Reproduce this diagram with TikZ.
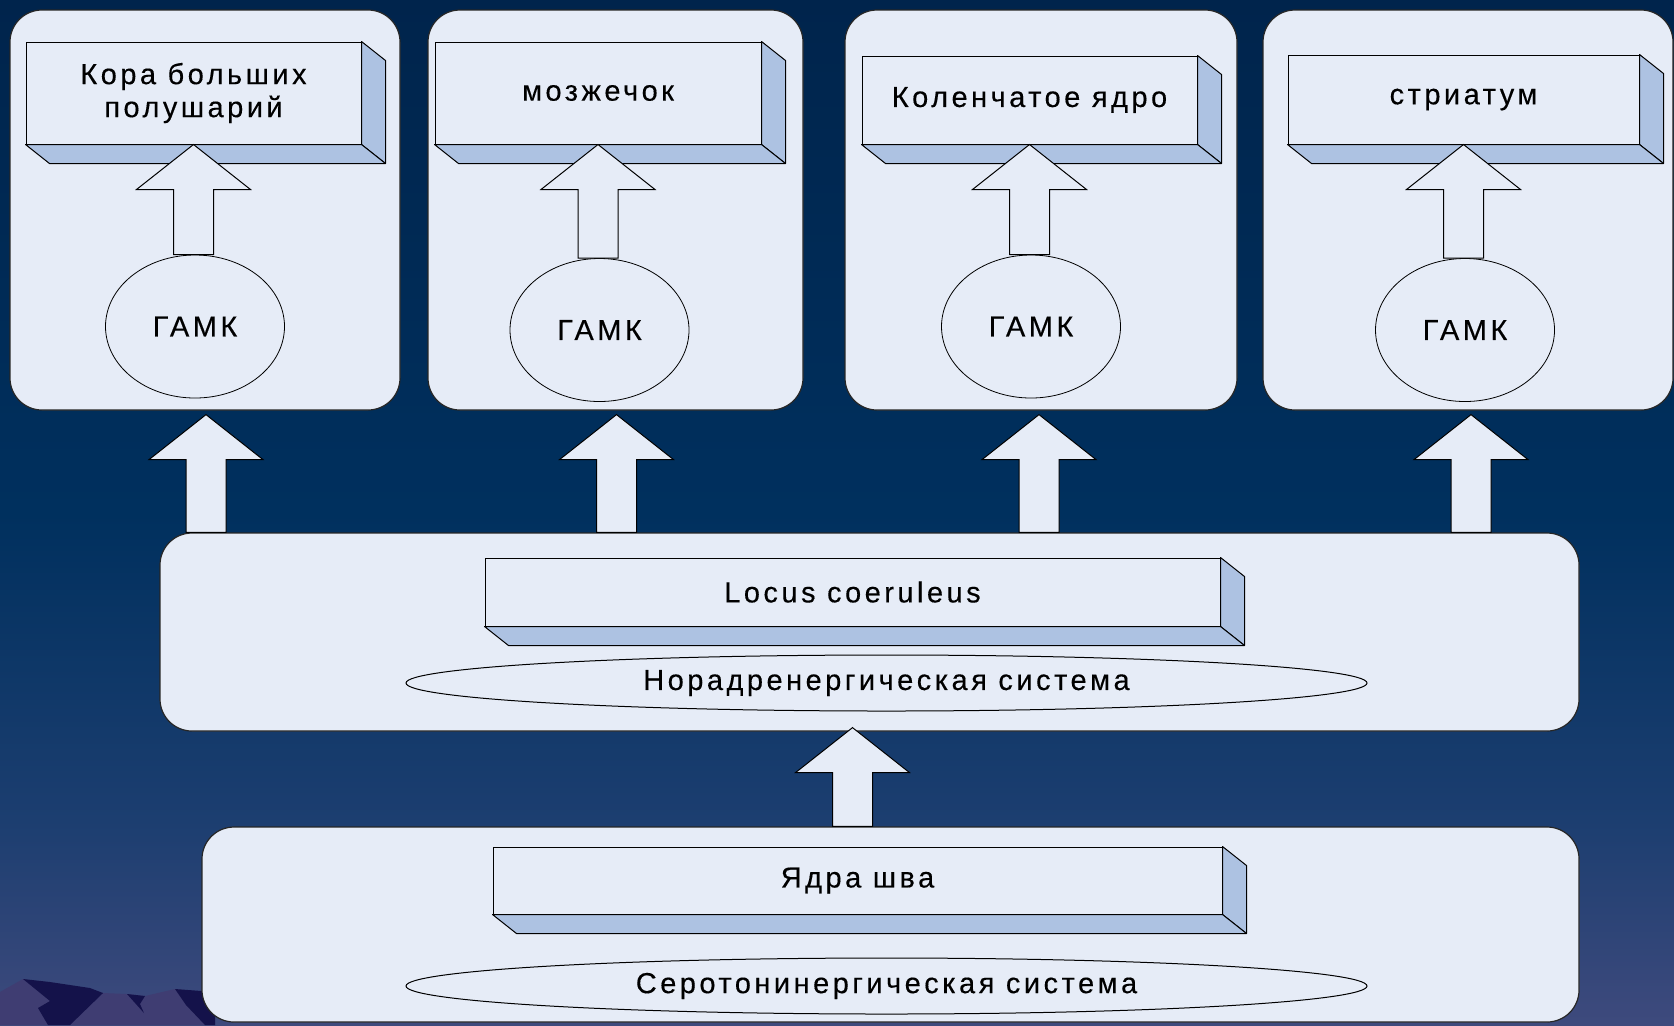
\documentclass[tikz,border=0pt]{standalone}
\usepackage{fontspec}
\setmainfont{Liberation Sans}[LetterSpace=12,FakeBold=0.3]
\usetikzlibrary{calc,shapes.geometric}

\definecolor{panelfill}{RGB}{230,236,247}
\definecolor{sidefill}{RGB}{173,194,226}
\definecolor{bgtop}{RGB}{0,36,76}
\definecolor{bgmid}{RGB}{0,48,94}
\definecolor{bglow}{RGB}{28,62,112}
\definecolor{bgbot}{RGB}{62,74,125}
\definecolor{hilllight}{RGB}{63,61,114}
\definecolor{hilldark}{RGB}{20,18,74}

\pgfdeclareverticalshading{nightsky}{100bp}{color(0bp)=(bgbot); color(25bp)=(bgbot); color(35bp)=(bglow); color(50bp)=(bgmid); color(75bp)=(bgtop); color(100bp)=(bgtop)}

\newcommand{\txt}{\fontsize{14.5}{16.5}\selectfont}

% block arrow pointing up: #1 base point, #2 tip
\newcommand{\blockup}[2]{%
  \draw[blk] let \p1=(#1), \p2=(#2) in
    (\x2,\y2) -- (\x2+\headw,\y2-\headl) -- (\x2+\shaftw,\y2-\headl) -- (\x2+\shaftw,\y1)
    -- (\x2-\shaftw,\y1) -- (\x2-\shaftw,\y2-\headl) -- (\x2-\headw,\y2-\headl) -- cycle;}

% side faces of a 3d box
\newcommand{\extrude}[1]{%
  \draw[side] (#1.north east) -- ($(#1.north east)+(24,19)$) -- ($(#1.south east)+(24,19)$) -- (#1.south east) -- cycle;
  \draw[side] (#1.south west) -- ($(#1.south west)+(24,19)$) -- ($(#1.south east)+(24,19)$) -- (#1.south east) -- cycle;}

\begin{document}
\begin{tikzpicture}[x=0.5pt,y=-0.5pt]
    \tikzstyle{panel}=[draw=black!85, fill=panelfill, rounded corners=16pt, line width=0.6pt, inner sep=0pt]
    \tikzstyle{front}=[draw=black, fill=panelfill, line width=0.5pt, inner sep=0pt, align=center, font=\txt]
    \tikzstyle{side}=[draw=black, fill=sidefill, line width=0.5pt, line join=round]
    \tikzstyle{gamk}=[ellipse, draw=black, fill=panelfill, line width=0.4pt, minimum width=89.5pt, minimum height=71.5pt, inner sep=0pt, font=\txt]
    \tikzstyle{flat}=[ellipse, draw=black, fill=panelfill, line width=0.5pt, minimum width=480.5pt, minimum height=28pt, inner sep=0pt, font=\txt]
    \tikzstyle{blk}=[draw=black, fill=panelfill, line width=0.5pt, line join=miter]

    \def\headw{28.5pt}
    \def\shaftw{10pt}
    \def\headl{22.5pt}

    % background
    \shade[shading=nightsky] (0,0) rectangle (1674,1025);
    \useasboundingbox (0,0) rectangle (1674,1025);

    \fill[hilllight] (0,992) -- (23,979) -- (103,993) -- (127,994) -- (145,996) -- (175,989) -- (215,993) -- (215,1025) -- (0,1025) -- cycle;
    \fill[hilldark] (23,979) -- (50,982) -- (90,988) -- (103,993) -- (70,1025) -- (48,1025) -- (38,1008) -- (50,1001) -- cycle;
    \fill[hilldark] (127,994) -- (145,996) -- (140,1004) -- (144,1013) -- cycle;
    \fill[hilldark] (175,989) -- (215,992) -- (215,1025) -- (205,1025) -- (186,1005) -- cycle;

    % top panels
    \node[panel, minimum width=195pt, minimum height=200pt]   (p1) at (205,210) {};
    \node[panel, minimum width=187.5pt, minimum height=200pt] (p2) at (615.5,210) {};
    \node[panel, minimum width=196pt, minimum height=200pt]   (p3) at (1041,210) {};
    \node[panel, minimum width=205pt, minimum height=200pt]   (p4) at (1468,210) {};

    % noradrenergic and serotonergic panels
    \node[panel, minimum width=709.5pt, minimum height=99pt]  (mid) at (869.5,632) {};
    \node[panel, minimum width=688.5pt, minimum height=97.5pt] (bot) at (890.5,924.5) {};

    \node[front, minimum width=167.5pt, minimum height=51pt]   (b1) at (193.5,93) {Кора больших\\полушарий};
    \node[front, minimum width=163pt, minimum height=51pt]     (b2) at (598,93) {мозжечок};
    \node[front, minimum width=167.5pt, minimum height=44pt]   (b3) at (1029.5,100) {Коленчатое ядро};
    \node[front, minimum width=175.5pt, minimum height=44.5pt] (b4) at (1463.5,99.5) {стриатум};
    \node[front, minimum width=367.5pt, minimum height=34pt]   (lc) at (852.5,592) {Locus coeruleus};
    \node[front, minimum width=364.5pt, minimum height=33.5pt] (rn) at (857.5,880.5) {Ядра шва};

    \extrude{b1}
    \extrude{b2}
    \extrude{b3}
    \extrude{b4}
    \extrude{lc}
    \extrude{rn}

    \node[gamk] (g1) at (195,326.5) {ГАМК};
    \node[gamk] (g2) at (599.5,330) {ГАМК};
    \node[gamk] (g3) at (1031,326.5) {ГАМК};
    \node[gamk] (g4) at (1465,330) {ГАМК};

    \node[flat] (ne) at (886.5,683) {Норадренергическая система};
    \node[flat] (se) at (886.5,986) {Серотонинергическая система};

    \blockup{g1.north}{b1.south}
    \blockup{g2.north}{b2.south}
    \blockup{g3.north}{b3.south}
    \blockup{g4.north}{b4.south}

    \blockup{mid.north}{$(p1.south)+(1,4)$}
    \blockup{mid.north}{$(p2.south)+(1,4)$}
    \blockup{mid.north}{$(p3.south)+(-2,4)$}
    \blockup{mid.north}{$(p4.south)+(3,4)$}

    \blockup{bot.north}{$(mid.south -| lc.south)+(0,-4)$}

\end{tikzpicture}
\end{document}
